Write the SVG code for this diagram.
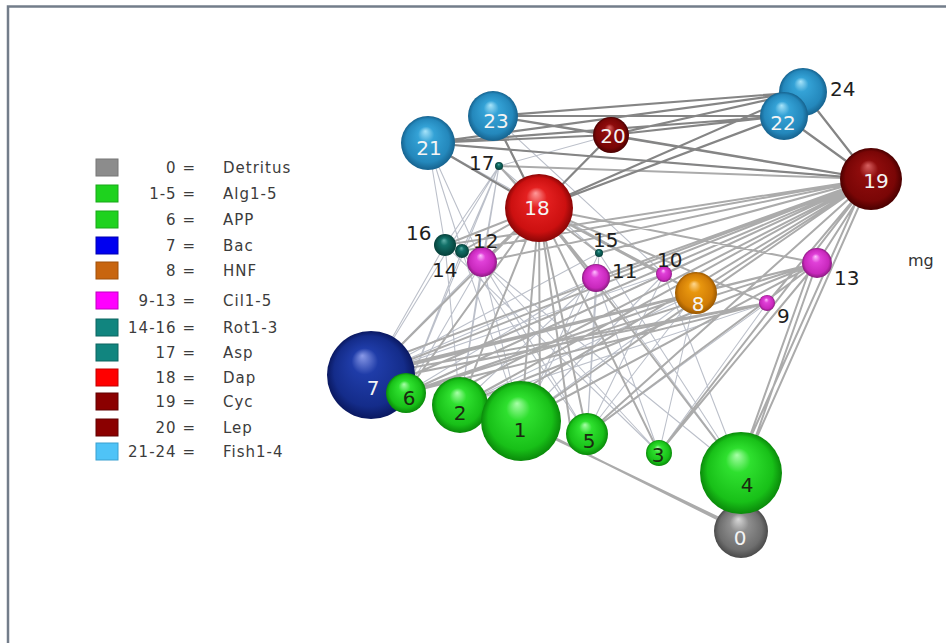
<svg xmlns="http://www.w3.org/2000/svg" width="946" height="643" viewBox="0 0 946 643">
<defs>
<style>
.lg{font-family:"DejaVu Sans","Verdana",sans-serif;font-size:15px;fill:#3c3c3c;letter-spacing:1px}
.nl{font-family:"DejaVu Sans",sans-serif;font-size:20px;fill:#1e1e1e}
.in{font-family:"DejaVu Sans",sans-serif;font-size:20px;text-anchor:middle}
.w{fill:#f4f4f4}
.k{fill:#1a2a10}
.e1{stroke:#858585;stroke-width:2.2;fill:none}
.e2{stroke:#ababab;stroke-width:2;fill:none}
.e3{stroke:#bcc0ca;stroke-width:1.1;fill:none}
.sq{stroke-width:1}
</style>
<radialGradient id="gGray" cx="0.5" cy="0.5" r="0.5" fx="0.45" fy="0.28"><stop offset="0" stop-color="#d8d8d8"/><stop offset="0.35" stop-color="#8e8e8e"/><stop offset="0.8" stop-color="#6e6e6e"/><stop offset="1" stop-color="#4a4a4a"/></radialGradient>
<radialGradient id="gGreen" cx="0.5" cy="0.5" r="0.5" fx="0.45" fy="0.28"><stop offset="0" stop-color="#a8ffa8"/><stop offset="0.3" stop-color="#2fe02f"/><stop offset="0.8" stop-color="#18c018"/><stop offset="1" stop-color="#0a8a0a"/></radialGradient>
<radialGradient id="gBlue" cx="0.5" cy="0.5" r="0.5" fx="0.4" fy="0.28"><stop offset="0" stop-color="#8a9ae8"/><stop offset="0.3" stop-color="#1f3ca8"/><stop offset="0.8" stop-color="#142c8a"/><stop offset="1" stop-color="#0a1860"/></radialGradient>
<radialGradient id="gOrange" cx="0.5" cy="0.5" r="0.5" fx="0.45" fy="0.28"><stop offset="0" stop-color="#ffd890"/><stop offset="0.3" stop-color="#e8960e"/><stop offset="0.8" stop-color="#d07c06"/><stop offset="1" stop-color="#9a5800"/></radialGradient>
<radialGradient id="gMag" cx="0.5" cy="0.5" r="0.5" fx="0.45" fy="0.28"><stop offset="0" stop-color="#ffc0ff"/><stop offset="0.3" stop-color="#e040d8"/><stop offset="0.8" stop-color="#c828bc"/><stop offset="1" stop-color="#8a1a80"/></radialGradient>
<radialGradient id="gTeal" cx="0.5" cy="0.5" r="0.5" fx="0.45" fy="0.28"><stop offset="0" stop-color="#60b0a8"/><stop offset="0.35" stop-color="#127068"/><stop offset="1" stop-color="#06403a"/></radialGradient>
<radialGradient id="gRed" cx="0.5" cy="0.5" r="0.5" fx="0.45" fy="0.28"><stop offset="0" stop-color="#ff9a9a"/><stop offset="0.3" stop-color="#e42020"/><stop offset="0.8" stop-color="#cc1010"/><stop offset="1" stop-color="#8a0606"/></radialGradient>
<radialGradient id="gDark" cx="0.5" cy="0.5" r="0.5" fx="0.45" fy="0.28"><stop offset="0" stop-color="#d86060"/><stop offset="0.3" stop-color="#8e0c0c"/><stop offset="0.8" stop-color="#7a0606"/><stop offset="1" stop-color="#4a0000"/></radialGradient>
<radialGradient id="gFish" cx="0.5" cy="0.5" r="0.5" fx="0.45" fy="0.28"><stop offset="0" stop-color="#a8e4fa"/><stop offset="0.3" stop-color="#34a2d6"/><stop offset="0.8" stop-color="#2488bc"/><stop offset="1" stop-color="#16628e"/></radialGradient>
</defs>
<rect width="946" height="643" fill="#ffffff"/>
<rect x="8" y="6.5" width="960" height="660" fill="none" stroke="#737d8a" stroke-width="2.5"/>

<g id="legend">
<rect class="sq" x="96" y="159" width="22" height="17" fill="#8c8c8c" stroke="#777"/>
<rect class="sq" x="96" y="185" width="22" height="17" fill="#1ed21e" stroke="#18a818"/>
<rect class="sq" x="96" y="211" width="22" height="17" fill="#1ed21e" stroke="#18a818"/>
<rect class="sq" x="96" y="237" width="22" height="17" fill="#0000f0" stroke="#0000b0"/>
<rect class="sq" x="96" y="262" width="22" height="17" fill="#c8650f" stroke="#a0500a"/>
<rect class="sq" x="96" y="292" width="22" height="17" fill="#ff00ff" stroke="#c000c0"/>
<rect class="sq" x="96" y="319" width="22" height="17" fill="#11857f" stroke="#0c6460"/>
<rect class="sq" x="96" y="344" width="22" height="17" fill="#11857f" stroke="#0c6460"/>
<rect class="sq" x="96" y="369" width="22" height="17" fill="#ff0000" stroke="#c00000"/>
<rect class="sq" x="96" y="393" width="22" height="17" fill="#8b0000" stroke="#600000"/>
<rect class="sq" x="96" y="419" width="22" height="17" fill="#8b0000" stroke="#600000"/>
<rect class="sq" x="96" y="443" width="22" height="17" fill="#4fc3f7" stroke="#3aa0d0"/>
<g class="lg" text-anchor="end">
<text x="196" y="173">0 =</text>
<text x="196" y="199">1-5 =</text>
<text x="196" y="225">6 =</text>
<text x="196" y="251">7 =</text>
<text x="196" y="276">8 =</text>
<text x="196" y="306">9-13 =</text>
<text x="196" y="333">14-16 =</text>
<text x="196" y="358">17 =</text>
<text x="196" y="383">18 =</text>
<text x="196" y="407">19 =</text>
<text x="196" y="433">20 =</text>
<text x="196" y="457">21-24 =</text>
</g>
<g class="lg">
<text x="223" y="173">Detritus</text>
<text x="223" y="199">Alg1-5</text>
<text x="223" y="225">APP</text>
<text x="223" y="251">Bac</text>
<text x="223" y="276">HNF</text>
<text x="223" y="306">Cil1-5</text>
<text x="223" y="333">Rot1-3</text>
<text x="223" y="358">Asp</text>
<text x="223" y="383">Dap</text>
<text x="223" y="407">Cyc</text>
<text x="223" y="433">Lep</text>
<text x="223" y="457">Fish1-4</text>
</g>
</g>

<g id="connectors">
<path class="e3" d="M428 143L445 245M428 143L462 251M428 143L482 262M499 166L482 262M499 166L462 251M499 166L445 245M499 166L596 278M499 166L371 375M499 166L406 393M499 166L599 253M499 166L460 405
M482 262L371 375M482 262L406 393M482 262L460 405M482 262L521 421M482 262L587 434M482 262L659 453M482 262L741 473
M596 278L371 375M596 278L406 393M596 278L460 405M596 278L521 421M596 278L587 434M596 278L659 453M596 278L741 473
M664 274L371 375M664 274L406 393M664 274L521 421M664 274L587 434M664 274L741 473
M767 303L460 405M767 303L659 453M767 303L587 434
M445 245L371 375M462 251L406 393M445 245L460 405M462 251L521 421M462 251L587 434M445 245L659 453
M599 253L521 421M599 253L587 434M599 253L371 375M599 253L741 473
M696 293L460 405M696 293L521 421M696 293L587 434M696 293L659 453
M428 143L871 179M493 116L871 179M611 135L499 166M428 143L696 293M493 116L664 274"/>
<path class="e2" d="M539 208L371 375M539 208L406 393M539 208L460 405M539 208L521 421M539 208L587 434M539 208L659 453M539 208L741 473M539 208L696 293M539 208L767 303M539 208L664 274M539 208L596 278M539 208L482 262M539 208L817 263M539 208L462 251M539 208L445 245M539 208L599 253M539 208L499 166M539 208L540 415M539 208L570 425
M871 179L371 375M871 179L406 393M871 179L460 405M871 179L521 421M871 179L587 434M871 179L659 453M871 179L741 473M866 180L736 470M871 179L696 293M871 179L767 303M871 179L664 274M871 179L596 278M871 179L482 262M871 179L817 263M871 179L462 251M871 179L445 245M871 179L599 253M871 179L499 166M871 179L380 362M871 179L400 380M871 179L448 395M871 179L490 410
M817 263L371 375M817 263L406 393M817 263L460 405M817 263L521 421M817 263L587 434M817 263L659 453M817 263L756 436M812 263L750 436M817 263L390 368
M767 303L371 375M767 303L406 393M767 303L380 380
M696 293L371 375M696 293L406 393M696 293L385 370"/>
<path class="e1" d="M428 143L539 208M428 143L611 135M428 143L784 116M428 143L803 92M493 116L611 135M493 116L784 116M493 116L803 92M493 116L539 208M611 135L784 116M611 135L803 92M611 135L871 179M784 116L871 179M803 92L871 179M539 208L784 116M539 208L803 92M493 116L871 179M428 143L871 179M611 135L539 208"/>
<path class="e2" d="M521 421L741 531M526 425L738 527"/>
</g>

<g id="n0"><circle cx="741" cy="531" r="27" fill="url(#gGray)"/><text class="in w" x="740" y="545">0</text></g>
<g id="n4"><circle cx="741" cy="473" r="41" fill="url(#gGreen)"/><text class="in k" x="747" y="492">4</text></g>
<g id="n3"><circle cx="659" cy="453" r="13" fill="url(#gGreen)"/><text class="in k" x="658" y="462">3</text></g>
<g id="n5"><circle cx="587" cy="434" r="21" fill="url(#gGreen)"/><text class="in k" x="589" y="448">5</text></g>
<g id="n7"><circle cx="371" cy="375" r="44" fill="url(#gBlue)"/><text class="in w" x="373" y="395">7</text></g>
<g id="n6"><circle cx="406" cy="393" r="20" fill="url(#gGreen)"/><text class="in k" x="409" y="405">6</text></g>
<g id="n2"><circle cx="460" cy="405" r="28" fill="url(#gGreen)"/><text class="in k" x="460" y="420">2</text></g>
<g id="n1"><circle cx="521" cy="421" r="40" fill="url(#gGreen)"/><text class="in k" x="520" y="437">1</text></g>
<g id="n8"><circle cx="696" cy="293" r="21" fill="url(#gOrange)"/><text class="in w" x="698" y="311">8</text></g>
<g id="n9"><circle cx="767" cy="303" r="8" fill="url(#gMag)"/><text class="nl" x="777" y="323">9</text></g>
<g id="n10"><circle cx="664" cy="274" r="8" fill="url(#gMag)"/><text class="nl" x="657" y="267">10</text></g>
<g id="n11"><circle cx="596" cy="278" r="14" fill="url(#gMag)"/><text class="nl" x="612" y="278">11</text></g>
<g id="n15"><circle cx="599" cy="253" r="4" fill="url(#gTeal)"/><text class="nl" x="593" y="247">15</text></g>
<g id="n16"><circle cx="445" cy="245" r="11" fill="url(#gTeal)"/><text class="nl" x="406" y="240">16</text></g>
<g id="n14"><circle cx="462" cy="251" r="7" fill="url(#gTeal)"/><text class="nl" x="432" y="277">14</text></g>
<g id="n12"><circle cx="482" cy="262" r="15" fill="url(#gMag)"/><text class="nl" x="473" y="248">12</text></g>
<g id="n13"><circle cx="817" cy="263" r="15" fill="url(#gMag)"/><text class="nl" x="834" y="285">13</text></g>
<g id="n17"><circle cx="499" cy="166" r="4" fill="url(#gTeal)"/><text class="nl" x="469" y="170">17</text></g>
<g id="n18"><circle cx="539" cy="208" r="34" fill="url(#gRed)"/><text class="in w" x="537" y="215">18</text></g>
<g id="n20"><circle cx="611" cy="135" r="18" fill="url(#gDark)"/><text class="in w" x="613" y="143">20</text></g>
<g id="n21"><circle cx="428" cy="143" r="27" fill="url(#gFish)"/><text class="in w" x="429" y="155">21</text></g>
<g id="n23"><circle cx="493" cy="116" r="25" fill="url(#gFish)"/><text class="in w" x="496" y="128">23</text></g>
<g id="n24"><circle cx="803" cy="92" r="24" fill="url(#gFish)"/><text class="nl" x="830" y="96">24</text></g>
<g id="n22"><circle cx="784" cy="116" r="24" fill="url(#gFish)"/><text class="in w" x="783" y="130">22</text></g>
<g id="n19"><circle cx="871" cy="179" r="31" fill="url(#gDark)"/><text class="in w" x="876" y="188">19</text></g>
<text x="908" y="266" font-family="DejaVu Sans, sans-serif" font-size="16" fill="#333">mg</text>
</svg>
